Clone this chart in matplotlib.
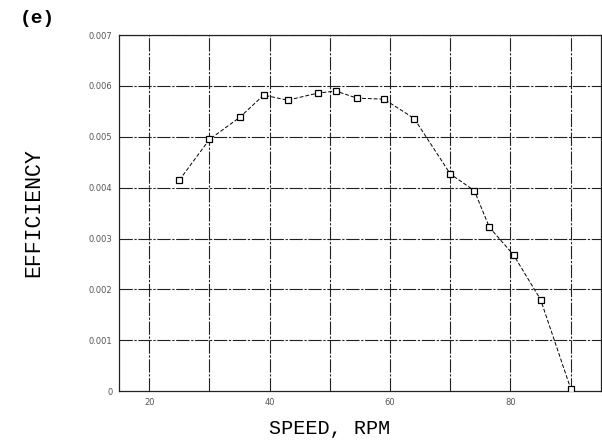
import matplotlib
matplotlib.use('Agg')
import matplotlib.pyplot as plt
import numpy as np

# 数据
speed = [25, 30, 35, 39, 43, 48, 51, 54.5, 59, 64, 70, 74, 76.5, 80.5, 85, 90]
efficiency = [0.00415, 0.00495, 0.00538, 0.00582, 0.00572, 0.00586, 0.0059, 0.00576,
              0.00574, 0.00536, 0.00427, 0.00394, 0.00322, 0.00268, 0.0018, 0.00005]
x_ticks = [20, 40, 60, 80]
x_grid = [20, 30, 40, 50, 60, 70, 80, 90]
y_ticks = [0, 0.001, 0.002, 0.003, 0.004, 0.005, 0.006, 0.007]
y_labels = ['0', '0.001', '0.002', '0.003', '0.004', '0.005', '0.006', '0.007']

fig = plt.figure(figsize=(6.02, 4.44), dpi=100)
ax = fig.add_axes([0.198, 0.119, 0.800, 0.802])

ax.plot(speed, efficiency, color='black', linestyle=(0, (4, 2)), linewidth=0.7,
        marker='s', markersize=4.5, markerfacecolor='white', markeredgecolor='black',
        markeredgewidth=0.9, zorder=3)

ax.set_xlim(15, 95)
ax.set_ylim(0, 0.007)

# 网格线
grid_style = dict(color='#222222', linewidth=0.8, linestyle=(0, (12, 1.5, 2, 1.5)), zorder=1)
for gx in x_grid:
    ax.axvline(gx, **grid_style)
for gy in y_ticks[1:]:
    ax.axhline(gy, **grid_style)

ax.set_xticks(x_ticks)
ax.set_xticklabels([str(t) for t in x_ticks], fontsize=6, color='#555555')
ax.set_yticks(y_ticks)
ax.set_yticklabels(y_labels, fontsize=6, color='#555555')
ax.tick_params(length=0, pad=5)

for s in ax.spines.values():
    s.set_color('#222222')
    s.set_linewidth(0.9)

fig.text(0.056, 0.52, 'EFFICIENCY', rotation=90, ha='center', va='center',
         family='Liberation Mono', fontsize=15.5)
fig.text(0.548, 0.035, 'SPEED, RPM', ha='center', va='center',
         family='Liberation Mono', fontsize=14.5)
fig.text(0.033, 0.958, '(e)', ha='left', va='center',
         family='Liberation Mono', fontsize=14, fontweight='bold')

plt.savefig('out.png', dpi=100)
plt.close()
